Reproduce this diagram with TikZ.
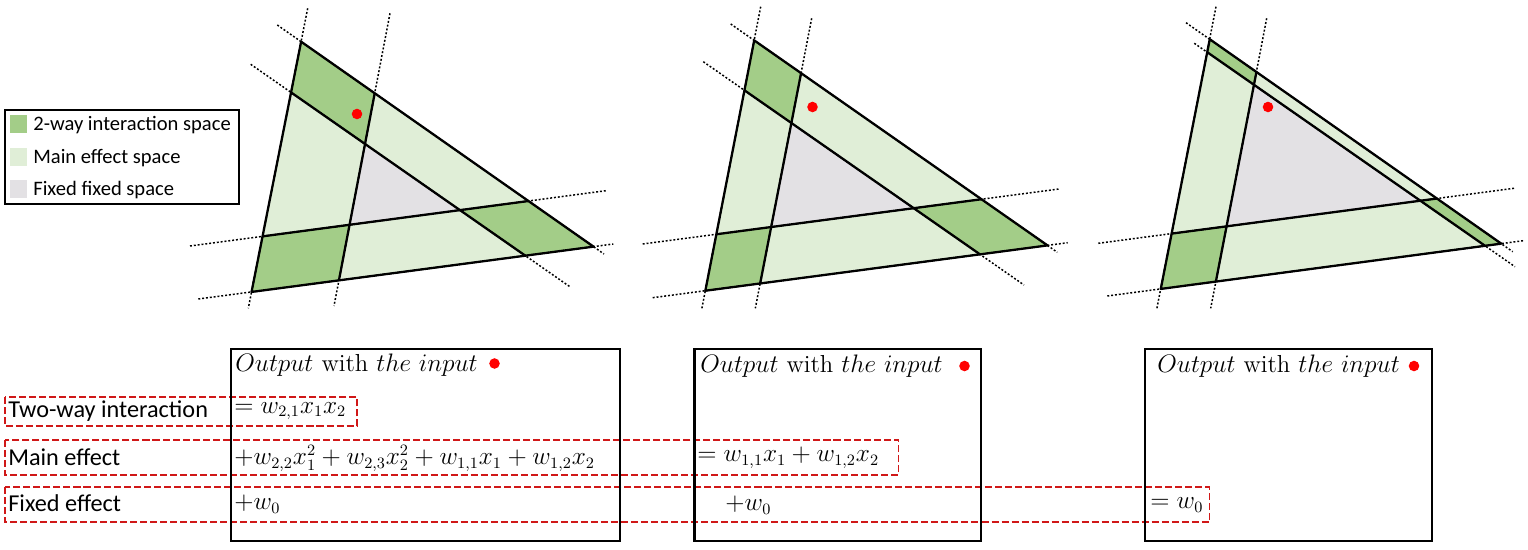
\documentclass[tikz,border=0pt]{standalone}
\usepackage{fontspec}
\newfontfamily\calibri{Carlito}

\definecolor{cTwo}{HTML}{A3CD88}
\definecolor{cMain}{HTML}{E0EED7}
\definecolor{cFixed}{HTML}{E3E1E4}
\definecolor{cDash}{RGB}{208,24,24}

% one triangle, from its six lines (s = side, i = inner), each given by its two ends
\newcommand{\tri}[1]{%
  \coordinate (#1top) at (intersection of #1Ls1--#1Ls2 and #1Ts1--#1Ts2);
  \coordinate (#1bot) at (intersection of #1Ls1--#1Ls2 and #1Bs1--#1Bs2);
  \coordinate (#1rgt) at (intersection of #1Ts1--#1Ts2 and #1Bs1--#1Bs2);
  \coordinate (#1a) at (intersection of #1Li1--#1Li2 and #1Ts1--#1Ts2);
  \coordinate (#1b) at (intersection of #1Li1--#1Li2 and #1Bs1--#1Bs2);
  \coordinate (#1c) at (intersection of #1Ti1--#1Ti2 and #1Ls1--#1Ls2);
  \coordinate (#1d) at (intersection of #1Ti1--#1Ti2 and #1Bs1--#1Bs2);
  \coordinate (#1e) at (intersection of #1Bi1--#1Bi2 and #1Ls1--#1Ls2);
  \coordinate (#1f) at (intersection of #1Bi1--#1Bi2 and #1Ts1--#1Ts2);
  \coordinate (#1g) at (intersection of #1Li1--#1Li2 and #1Ti1--#1Ti2);
  \coordinate (#1h) at (intersection of #1Li1--#1Li2 and #1Bi1--#1Bi2);
  \coordinate (#1k) at (intersection of #1Ti1--#1Ti2 and #1Bi1--#1Bi2);
  \fill[mainfill] (#1top) -- (#1bot) -- (#1rgt) -- cycle;
  \fill[fixfill] (#1g) -- (#1h) -- (#1k) -- cycle;
  \fill[twofill] (#1top) -- (#1a) -- (#1g) -- (#1c) -- cycle;
  \fill[twofill] (#1bot) -- (#1b) -- (#1h) -- (#1e) -- cycle;
  \fill[twofill] (#1rgt) -- (#1f) -- (#1k) -- (#1d) -- cycle;
  \foreach \side in {Ls,Li,Ts,Ti,Bs,Bi}
    \path (#1\side1) edge[trdot] (#1\side2);
  \draw[trisolid] (#1top) -- (#1bot) -- (#1rgt) -- cycle;
  \path (#1a) edge[trisolid] (#1b)
        (#1c) edge[trisolid] (#1d)
        (#1e) edge[trisolid] (#1f);
}

\begin{document}
\begin{tikzpicture}[x=0.02cm,y=-0.02cm,
    trisolid/.style={line width=1.3pt,line join=round},
    trdot/.style={line width=0.85pt,dash pattern=on 1.1pt off 1.1pt},
    twofill/.style={fill=cTwo},
    mainfill/.style={fill=cMain},
    fixfill/.style={fill=cFixed},
    reddot/.style={circle,fill=red,inner sep=0pt,minimum size=6pt},
    leg/.style={anchor=west,inner sep=0pt,font=\calibri\fontsize{11.7}{14}\selectfont},
    lab/.style={anchor=west,inner sep=0pt,font=\calibri\fontsize{13.8}{16}\selectfont},
    head/.style={anchor=west,inner sep=0pt,font=\fontsize{14}{17}\selectfont},
    eq/.style={anchor=west,inner sep=0pt,font=\fontsize{13.4}{16}\selectfont},
    outbox/.style={line width=1.2pt},
    redbox/.style={draw=cDash,line width=1.1pt,dash pattern=on 4pt off 1.7pt}]
            \useasboundingbox (0,0) rectangle (1528,550);

            % legend
            \draw[outbox] (5,110) rectangle (239,204);
            \fill[twofill] (10,115) rectangle (26.7,132.7);
            \fill[mainfill] (10,147.7) rectangle (26.7,165.7);
            \fill[fixfill] (10,180) rectangle (26.7,198.3);
            \node[leg] (L1) at (33,125) {2-way interaction space};
            \node[leg] (L2) at (33,158) {Main effect space};
            \node[leg] (L3) at (33,190) {Fixed fixed space};

            % first triangle
            \coordinate (PLs1) at (307.7,8.3);   \coordinate (PLs2) at (248.3,308.3);
            \coordinate (PLi1) at (390,13.3);    \coordinate (PLi2) at (334,306);
            \coordinate (PTs1) at (277.3,25);    \coordinate (PTs2) at (604,254);
            \coordinate (PTi1) at (250.7,64.3);  \coordinate (PTi2) at (570.7,287.3);
            \coordinate (PBs1) at (198.3,299);   \coordinate (PBs2) at (613.3,244);
            \coordinate (PBi1) at (190,246);     \coordinate (PBi2) at (606,190.7);
            \tri{P}
            \node[reddot] (dP) at (357,114) {};

            % second triangle
            \coordinate (QLs1) at (760.7,6.7);   \coordinate (QLs2) at (701.7,309.3);
            \coordinate (QLi1) at (811.7,18.3);  \coordinate (QLi2) at (755.3,308.3);
            \coordinate (QTs1) at (730.7,24);    \coordinate (QTs2) at (1057.3,252.3);
            \coordinate (QTi1) at (703.3,61.7);  \coordinate (QTi2) at (1024,285);
            \coordinate (QBs1) at (652.7,297.7); \coordinate (QBs2) at (1067.7,242.7);
            \coordinate (QBi1) at (642.7,244);   \coordinate (QBi2) at (1059,189);
            \tri{Q}
            \node[reddot] (dQ) at (812.5,107) {};

            % third triangle
            \coordinate (RLs1) at (1216,6.7);    \coordinate (RLs2) at (1156.7,309.3);
            \coordinate (RLi1) at (1266.7,18.3); \coordinate (RLi2) at (1210.7,308.3);
            \coordinate (RTs1) at (1186,22.7);   \coordinate (RTs2) at (1512.7,251.7);
            \coordinate (RTi1) at (1194.3,43.3); \coordinate (RTi2) at (1515,266.7);
            \coordinate (RBs1) at (1107.3,296);  \coordinate (RBs2) at (1523.3,240.7);
            \coordinate (RBi1) at (1098.3,243.3);\coordinate (RBi2) at (1514,188.3);
            \tri{R}
            \node[reddot] (dR) at (1268,107) {};

            % effect rows
            \draw[redbox] (5,397) rectangle (357,426);
            \draw[redbox] (5,440) rectangle (898.5,475);
            \draw[redbox] (5,487) rectangle (1209.5,522);
            \draw[outbox] (231,349) rectangle (620,541);
            \draw[outbox] (694.5,349) rectangle (981,541);
            \draw[outbox] (1145,349) rectangle (1432,541);

            \node[lab] (T1) at (8,411) {Two-way interaction};
            \node[lab] (T2) at (8,457) {Main effect};
            \node[lab] (T3) at (8,503) {Fixed effect};

            \node[head] (H1) at (235,365) {$Output$ with $the\ input$};
            \node[head] (H2) at (700,366) {$Output$ with $the\ input$};
            \node[head] (H3) at (1157,366) {$Output$ with $the\ input$};
            \node[reddot] (hP) at (494.5,363.5) {};
            \node[reddot] (hQ) at (964.5,366) {};
            \node[reddot] (hR) at (1414,366) {};

            \node[eq] (A1) at (234,411) {$= w_{2,1}x_1x_2$};
            \node[eq] (A2) at (234,458) {$+w_{2,2}x_1^2 + w_{2,3}x_2^2 + w_{1,1}x_1 + w_{1,2}x_2$};
            \node[eq] (A3) at (234,504) {$+w_0$};
            \node[eq] (B2) at (697,458) {$= w_{1,1}x_1 + w_{1,2}x_2$};
            \node[eq] (B3) at (725,505) {$+w_0$};
            \node[eq] (C3) at (1150,505) {$= w_0$};

        \end{tikzpicture}
\end{document}
